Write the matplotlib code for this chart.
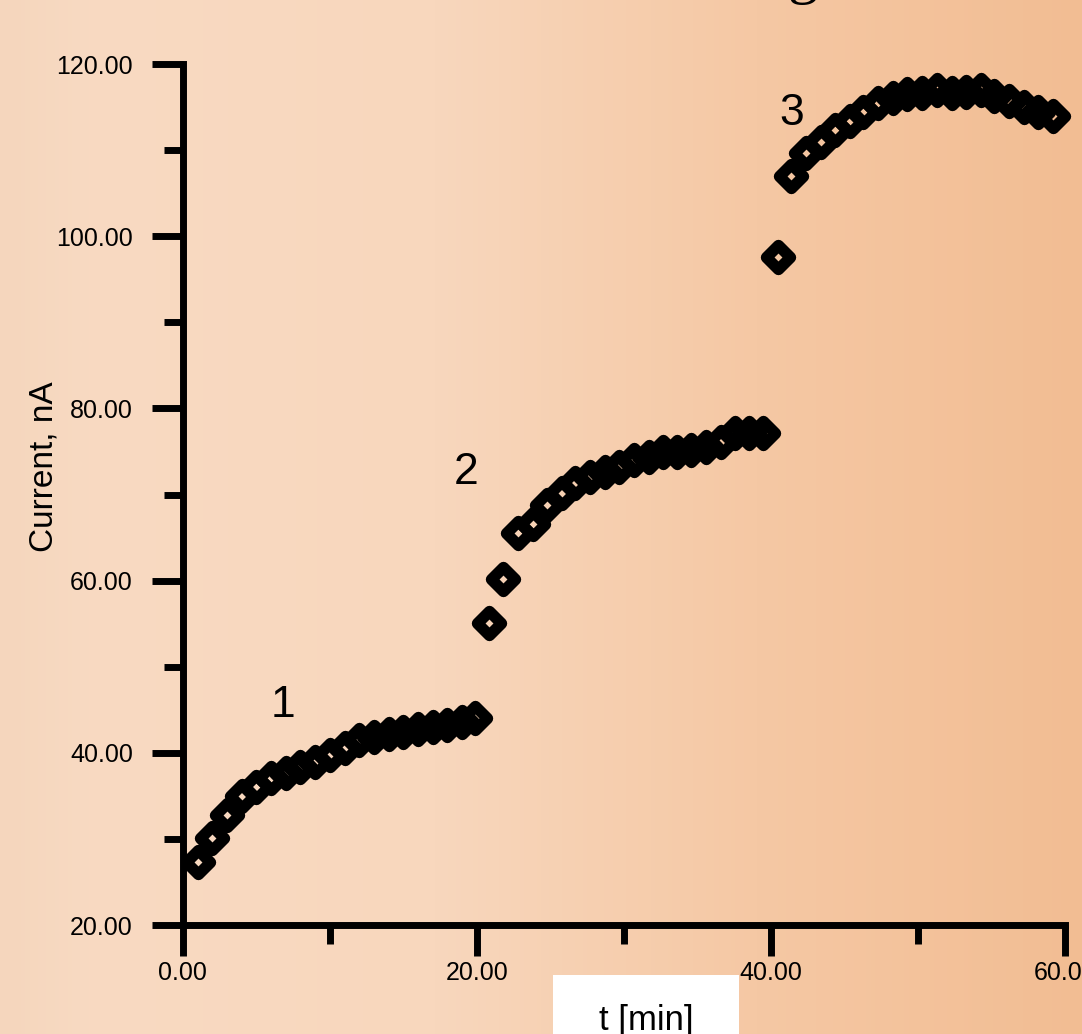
import numpy as np
import matplotlib
matplotlib.use("Agg")
import matplotlib.pyplot as plt
from matplotlib.markers import MarkerStyle
from matplotlib.colors import LinearSegmentedColormap
from matplotlib.patches import Rectangle

plt.rcParams['font.family'] = ['Liberation Sans', 'DejaVu Sans']

# time of each reading [min]
t_min = [1.0, 2.0, 3.0, 4.0, 5.0, 6.0, 7.0, 8.0, 9.0, 10.0,
         11.0, 12.0, 13.0, 14.0, 15.0, 16.0, 17.0, 18.0, 19.0, 19.9,
         20.8, 21.8, 22.8, 23.8, 24.8, 25.8, 26.7, 27.7, 28.7, 29.7,
         30.7, 31.7, 32.7, 33.6, 34.6, 35.6, 36.6, 37.6, 38.5, 39.5,
         40.5, 41.4, 42.4, 43.4, 44.4, 45.4, 46.3, 47.3, 48.3, 49.3,
         50.3, 51.3, 52.3, 53.3, 54.3, 55.2, 56.2, 57.2, 58.2, 59.2]

# measured current [nA]
current = [27.3, 30.1, 32.8, 35.0, 36.0, 37.1, 37.6, 38.4, 38.9, 39.7,
           40.6, 41.5, 41.8, 42.2, 42.4, 42.8, 43.0, 43.2, 43.6, 44.0,
           55.1, 60.2, 65.5, 66.6, 68.8, 70.2, 71.3, 72.0, 72.6, 73.2,
           74.0, 74.4, 74.9, 74.9, 75.2, 75.5, 76.1, 77.1, 77.1, 77.1,
           97.6, 107.0, 109.7, 110.9, 112.3, 113.4, 114.4, 115.5, 116.0, 116.5,
           116.6, 117.0, 116.6, 116.7, 117.0, 116.3, 115.7, 115.0, 114.4, 114.0]

step_labels = ["1", "2", "3"]
step_label_pos = [(6.8, 45.5), (19.3, 72.5), (41.4, 114.3)]

y_major = [20, 40, 60, 80, 100, 120]
y_minor = [30, 50, 70, 90, 110]
x_major = [0, 20, 40, 60]
x_minor = [10, 30, 50]

fig = plt.figure(figsize=(10.82, 10.34), dpi=100)

# peach background gradient
bg = fig.add_axes([0, 0, 1, 1], zorder=-5)
cmap = LinearSegmentedColormap.from_list(
    "peach", [(0.0, "#f5d6bd"), (0.08, "#f8dac2"), (0.4, "#f8d7bd"),
              (0.7, "#f5c8a4"), (1.0, "#f2bd93")])
grad = np.linspace(0, 1, 256).reshape(1, -1)
bg.imshow(grad, cmap=cmap, aspect="auto", extent=[0, 1, 0, 1])
bg.axis("off")

ax = fig.add_axes([0.169, 0.1054, 0.815, 0.8327])
ax.patch.set_alpha(0)

mk = MarkerStyle("D", fillstyle="none", joinstyle="round")
ax.plot(t_min, current, linestyle="none", marker=mk, markersize=12.5,
        markeredgewidth=8.2, markeredgecolor="black", clip_on=False)

for lab, (x, y) in zip(step_labels, step_label_pos):
    ax.text(x, y, lab, fontsize=32, ha="center", va="center")

ax.set_xlim(0, 60)
ax.set_ylim(20, 120)
ax.set_xticks(x_major)
ax.set_xticks(x_minor, minor=True)
ax.set_yticks(y_major)
ax.set_yticks(y_minor, minor=True)
ax.set_xticklabels(["%.2f" % v for v in x_major])
ax.set_yticklabels(["%.2f" % v for v in y_major])

for s in ["top", "right"]:
    ax.spines[s].set_visible(False)
for s in ["left", "bottom"]:
    ax.spines[s].set_linewidth(5)

ax.tick_params(axis="both", which="major", length=22, width=5, labelsize=18)
ax.tick_params(axis="both", which="minor", length=14, width=5)
ax.tick_params(axis="y", which="major", pad=14)
ax.tick_params(axis="x", which="major", pad=4)

ax.set_ylabel("Current, nA", fontsize=24)
ax.yaxis.set_label_coords(-0.1395, 0.532)

# white box with x axis title
fig.patches.append(Rectangle((0.511, 0.0), 0.172, 0.057, transform=fig.transFigure,
                             facecolor="white", edgecolor="none", zorder=1))
fig.text(0.597, 0.004, "t [min]", fontsize=25, ha="center", va="baseline", zorder=2)

# cut-off title remnants at the top
fig.text(0.728, 1.008, "g", fontsize=44, family=["Liberation Serif"], va="baseline")
fig.text(0.985, 1.0, "5", fontsize=16, family=["Liberation Serif"], va="baseline")

fig.savefig("out.png", dpi=100)
